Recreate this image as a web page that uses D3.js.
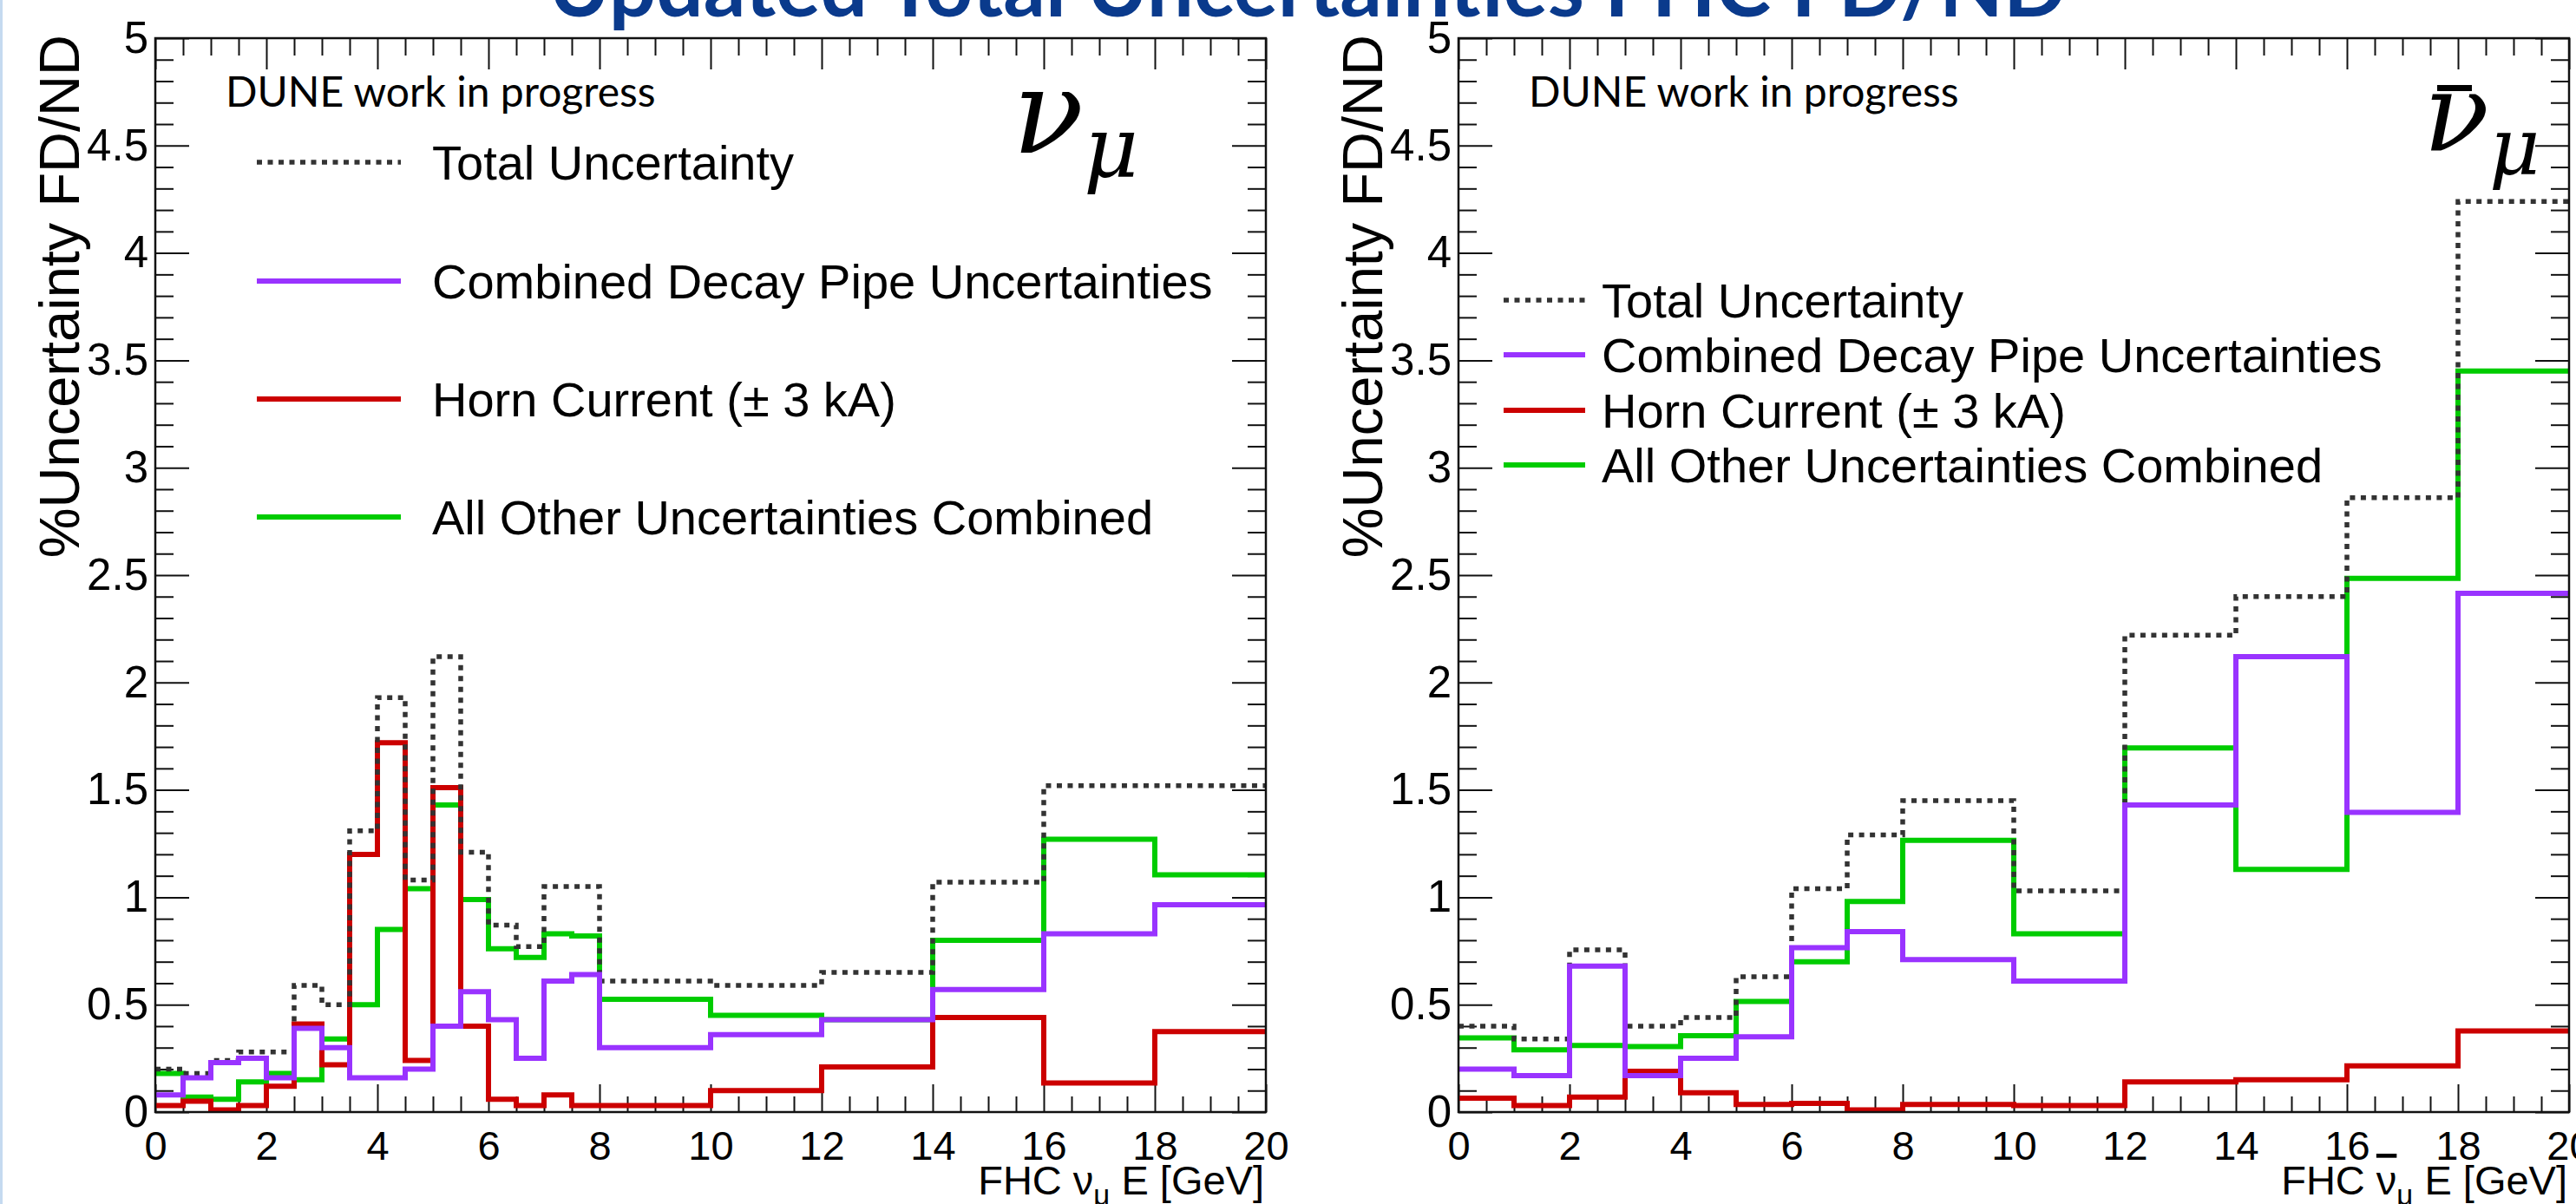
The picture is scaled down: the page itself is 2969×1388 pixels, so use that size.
<!DOCTYPE html>
<html>
<head>
<meta charset="utf-8">
<script src="https://cdn.jsdelivr.net/npm/d3@7/dist/d3.min.js"></script>
<style>
  body { margin: 0; background: #fff; }
  svg text { font-family: "Liberation Sans", Arial, sans-serif; }
</style>
</head>
<body>
<div id="container"></div>
<script>
// bin edges (GeV)
var leftEdges = [0, 0.5, 1, 1.5, 2, 2.5, 3, 3.5, 4, 4.5, 5, 5.5, 6, 6.5, 7, 7.5, 8, 10, 12, 14, 16, 18, 20];
var rightEdges = [0, 1, 2, 3, 4, 5, 6, 7, 8, 10, 12, 14, 16, 18, 20];

// FHC nu_mu  (% uncertainty FD/ND)
var leftTotal = [0.20, 0.18, 0.24, 0.28, 0.28, 0.59, 0.50, 1.31, 1.93, 1.08, 2.12, 1.21, 0.87, 0.77, 1.05, 1.05, 0.61, 0.59, 0.65, 1.07, 1.52, 1.52];
var leftPipe = [0.08, 0.16, 0.23, 0.25, 0.16, 0.39, 0.30, 0.16, 0.16, 0.20, 0.40, 0.56, 0.43, 0.25, 0.61, 0.64, 0.30, 0.36, 0.43, 0.57, 0.83, 0.965];
var leftHorn = [0.03, 0.05, 0.01, 0.03, 0.12, 0.41, 0.22, 1.20, 1.72, 0.24, 1.51, 0.40, 0.06, 0.03, 0.08, 0.03, 0.03, 0.10, 0.21, 0.44, 0.135, 0.375];
var leftOther = [0.18, 0.07, 0.06, 0.14, 0.18, 0.15, 0.34, 0.50, 0.85, 1.04, 1.43, 0.99, 0.76, 0.72, 0.83, 0.82, 0.525, 0.45, 0.43, 0.80, 1.27, 1.105];

// FHC anti-nu_mu
var rightTotal = [0.40, 0.34, 0.755, 0.40, 0.44, 0.63, 1.04, 1.29, 1.45, 1.03, 2.22, 2.40, 2.86, 4.24];
var rightPipe = [0.20, 0.17, 0.68, 0.17, 0.25, 0.35, 0.765, 0.84, 0.71, 0.61, 1.43, 2.12, 1.395, 2.415];
var rightHorn = [0.065, 0.03, 0.07, 0.19, 0.09, 0.035, 0.04, 0.01, 0.035, 0.03, 0.14, 0.15, 0.215, 0.378];
var rightOther = [0.345, 0.29, 0.31, 0.305, 0.355, 0.515, 0.70, 0.98, 1.265, 0.83, 1.695, 1.13, 2.485, 3.45];

var yMajor = [0, 0.5, 1, 1.5, 2, 2.5, 3, 3.5, 4, 4.5, 5];
var xMajor = [0, 2, 4, 6, 8, 10, 12, 14, 16, 18, 20];
var legendLabels = ["Total Uncertainty", "Combined Decay Pipe Uncertainties", "Horn Current (\u00b1 3 kA)", "All Other Uncertainties Combined"];

var width = 2969, height = 1388;
var colors = { total: "#333333", pipe: "#9933ff", horn: "#cc0000", other: "#00cc00" };

var svg = d3.select("#container").append("svg").attr("width", width).attr("height", height);

// slide edge
svg.append("rect").attr("x", 0).attr("y", 0).attr("width", 3).attr("height", height).attr("fill", "#c5daf0");

// cut-off slide title
svg.append("text").attr("x", 1507).attr("y", 19).attr("text-anchor", "middle")
  .style("font-family", "Lato, 'Open Sans', sans-serif").style("font-weight", "bold")
  .style("font-size", "96px").attr("fill", "#0a3a8c")
  .text("Updated Total Uncertainties FHC FD/ND");

var y = d3.scaleLinear().domain([0, 5]).range([1282, 44]);

function panel(x0, edges, series, anti, legend, symbol) {
  var x = d3.scaleLinear().domain([0, 20]).range([x0, x0 + 1280]);
  var g = svg.append("g");

  var minorX = d3.range(0, 20.01, 0.5).filter(function (d) { return d % 2 !== 0; });
  var minorY = d3.range(0, 5.001, 0.1).map(function (d) { return +d.toFixed(1); })
    .filter(function (d) { return Math.abs(d * 2 - Math.round(d * 2)) > 1e-6; });

  function style(sel) {
    sel.select(".domain").remove();
    sel.selectAll("line").attr("stroke", "#111").attr("stroke-width", 2);
    sel.selectAll("text").attr("fill", "#000").style("font-family", "'Liberation Sans', Arial, sans-serif");
  }

  g.append("g").attr("transform", "translate(0,1282)")
    .call(d3.axisBottom(x).tickValues(xMajor).tickSize(-32).tickPadding(22).tickFormat(d3.format("d")))
    .call(style).selectAll("text").style("font-size", "47px");
  g.append("g").attr("transform", "translate(0,1282)")
    .call(d3.axisBottom(x).tickValues(minorX).tickSize(-18).tickFormat("")).call(style);
  g.append("g").attr("transform", "translate(0,44)")
    .call(d3.axisTop(x).tickValues(xMajor).tickSize(-36).tickFormat("")).call(style);
  g.append("g").attr("transform", "translate(0,44)")
    .call(d3.axisTop(x).tickValues(minorX).tickSize(-20).tickFormat("")).call(style);

  g.append("g").attr("transform", "translate(" + x0 + ",0)")
    .call(d3.axisLeft(y).tickValues(yMajor).tickSize(-39).tickPadding(8).tickFormat(function (d) { return String(d); }))
    .call(style).selectAll("text").style("font-size", "51px");
  g.append("g").attr("transform", "translate(" + x0 + ",0)")
    .call(d3.axisLeft(y).tickValues(minorY).tickSize(-21).tickFormat("")).call(style);
  g.append("g").attr("transform", "translate(" + (x0 + 1280) + ",0)")
    .call(d3.axisRight(y).tickValues(yMajor).tickSize(-39).tickFormat("")).call(style);
  g.append("g").attr("transform", "translate(" + (x0 + 1280) + ",0)")
    .call(d3.axisRight(y).tickValues(minorY).tickSize(-21).tickFormat("")).call(style);

  // histograms
  var line = d3.line().curve(d3.curveStepAfter)
    .x(function (d) { return x(d[0]); }).y(function (d) { return y(d[1]); });
  function steps(vals) {
    return edges.map(function (e, i) { return [e, vals[Math.min(i, vals.length - 1)]]; });
  }
  var order = [
    { v: series.other, c: colors.other, dash: null },
    { v: series.horn, c: colors.horn, dash: null },
    { v: series.total, c: colors.total, dash: "6,6.5" },
    { v: series.pipe, c: colors.pipe, dash: null }
  ];
  g.selectAll(".hist").data(order).enter().append("path")
    .attr("class", "hist")
    .attr("d", function (d) { return line(steps(d.v)); })
    .attr("fill", "none").attr("stroke", function (d) { return d.c; })
    .attr("stroke-width", function (d) { return d.dash ? 5.5 : 6; })
    .attr("stroke-dasharray", function (d) { return d.dash; });

  // frame
  g.append("rect").attr("x", x0).attr("y", 44).attr("width", 1280).attr("height", 1238)
    .attr("fill", "none").attr("stroke", "#111").attr("stroke-width", 2.5);

  // axis titles
  g.append("text").attr("transform", "translate(" + (x0 - 88) + ",40) rotate(-90)")
    .attr("text-anchor", "end").style("font-size", "65px").text("%Uncertainty FD/ND");

  var xt = g.append("text").attr("x", x0 + 1278).attr("y", 1377).attr("text-anchor", "end").style("font-size", "47px");
  xt.append("tspan").text("FHC ");
  var nu = xt.append("tspan").text("\u03bd");
  if (anti) nu.style("text-decoration", "overline");
  xt.append("tspan").attr("dy", 12).style("font-size", "33px").text("\u03bc");
  xt.append("tspan").attr("dy", -12).text(" E [GeV]");

  // DUNE label
  g.append("text").attr("x", x0 + 81).attr("y", 123)
    .style("font-family", "Lato, 'Open Sans', sans-serif").style("font-size", "48px")
    .text("DUNE work in progress");

  // big neutrino symbol
  var sym = g.append("text").attr("x", x0 + symbol.dx).attr("y", symbol.y)
    .style("font-family", "'DejaVu Serif', 'Liberation Serif', serif").style("font-style", "italic")
    .style("font-size", symbol.size + "px");
  sym.append("tspan").text("\u03bd");
  sym.append("tspan").attr("dy", symbol.size * 0.21).style("font-size", (symbol.size * 0.72) + "px").text("\u03bc");
  if (anti) {
    g.append("rect").attr("x", x0 + symbol.dx + 16).attr("y", symbol.y - 76)
      .attr("width", 40).attr("height", 7).attr("fill", "#000");
  }

  // legend
  var lg = g.selectAll(".leg").data(legend.rows).enter().append("g").attr("class", "leg")
    .attr("transform", function (d, i) { return "translate(0," + legend.y[i] + ")"; });
  lg.append("line").attr("x1", legend.x1).attr("x2", legend.x2).attr("y1", 0).attr("y2", 0)
    .attr("stroke", function (d) { return d.c; })
    .attr("stroke-width", function (d) { return d.dash ? 5.5 : 6; })
    .attr("stroke-dasharray", function (d) { return d.dash; });
  lg.append("text").attr("x", legend.tx).attr("y", 20).style("font-size", "56px")
    .text(function (d) { return d.label; });
}

var legRows = [
  { label: legendLabels[0], c: colors.total, dash: "6,6.5" },
  { label: legendLabels[1], c: colors.pipe, dash: null },
  { label: legendLabels[2], c: colors.horn, dash: null },
  { label: legendLabels[3], c: colors.other, dash: null }
];

panel(179, leftEdges, { total: leftTotal, pipe: leftPipe, horn: leftHorn, other: leftOther }, false,
  { rows: legRows, y: [187, 324, 460, 596], x1: 296, x2: 462, tx: 498 },
  { dx: 988, y: 176, size: 135 });
panel(1681, rightEdges, { total: rightTotal, pipe: rightPipe, horn: rightHorn, other: rightOther }, true,
  { rows: legRows, y: [346, 409, 473, 536], x1: 1733, x2: 1827, tx: 1846 },
  { dx: 1112, y: 174, size: 125 });
</script>
</body>
</html>
